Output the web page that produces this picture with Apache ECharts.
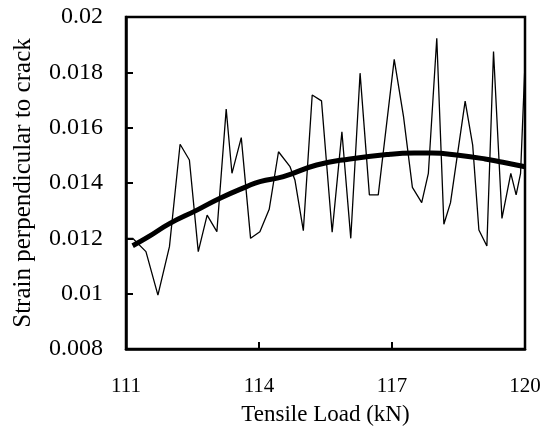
<!DOCTYPE html>
<html><head><meta charset="utf-8">
<script src="https://cdn.jsdelivr.net/npm/echarts@6/dist/echarts.min.js"></script>
<style>html,body{margin:0;padding:0;background:#fff}#c{width:547px;height:436px}</style>
</head><body><div id="c"></div>
<script>
var loadX = [111.0,111.15,111.45,111.72,111.98,112.22,112.43,112.63,112.83,113.05,113.26,113.39,113.6,113.81,114.02,114.23,114.44,114.7,114.81,115.0,115.2,115.41,115.65,115.87,116.07,116.28,116.49,116.69,117.05,117.26,117.46,117.67,117.82,118.01,118.17,118.32,118.65,118.82,118.96,119.14,119.29,119.48,119.68,119.8,119.9,120.0];
var strain = [0.0120,0.0120,0.01152,0.00995,0.0117,0.0154,0.01483,0.01152,0.01284,0.01224,0.01667,0.01435,0.01564,0.0120,0.01224,0.01305,0.01513,0.01459,0.01411,0.01228,0.01718,0.01697,0.01222,0.01585,0.0120,0.01797,0.01357,0.01357,0.01847,0.0164,0.01384,0.01329,0.01435,0.01923,0.01251,0.01329,0.01696,0.01537,0.0123,0.01172,0.01875,0.01272,0.01435,0.01357,0.01435,0.01833];
var trendX = [111.15,111.5,111.99,112.6,113.12,113.72,114.02,114.55,115.3,116.05,116.96,117.5,117.9,118.5,119.1,119.5,120.0];
var trendY = [0.01173,0.01205,0.01254,0.01302,0.01345,0.01387,0.01405,0.01423,0.01465,0.01487,0.01504,0.01508,0.01508,0.01500,0.01487,0.01475,0.01459];
var xTicks = [111,114,117,120];

var font = 'Liberation Serif';
var chart = echarts.init(document.getElementById('c'));
chart.setOption({
  animation:false,
  grid:{left:126,right:22,top:17,bottom:87,show:true,borderColor:'#000',borderWidth:2.5,backgroundColor:'transparent'},
  xAxis:{type:'value',min:111,max:120,interval:3,
    name:'Tensile Load (kN)',nameLocation:'middle',nameGap:54,
    nameTextStyle:{fontFamily:font,fontSize:23,color:'#000'},
    axisLine:{show:true,lineStyle:{color:'#000',width:2.5}},
    axisTick:{show:true,inside:true,length:7,lineStyle:{color:'#000',width:2}},
    axisLabel:{fontFamily:font,fontSize:21,color:'#000',margin:27,
      formatter:function(v){return xTicks.indexOf(v)>=0?String(v):'';}},
    splitLine:{show:false}},
  yAxis:{type:'value',min:0.008,max:0.02,interval:0.002,
    name:'Strain perpendicular to crack',nameLocation:'middle',nameGap:90,
    nameTextStyle:{fontFamily:font,fontSize:25,color:'#000'},
    axisLine:{show:true,lineStyle:{color:'#000',width:2.5}},
    axisTick:{show:true,inside:true,length:7,lineStyle:{color:'#000',width:2}},
    axisLabel:{fontFamily:font,fontSize:24,color:'#000',margin:23},
    splitLine:{show:false}},
  series:[
    {type:'line',data:loadX.map(function(x,i){return [x,strain[i]];}),
      showSymbol:false,lineStyle:{color:'#000',width:1.3},z:2},
    {type:'line',data:trendX.map(function(x,i){return [x,trendY[i]];}),
      smooth:true,showSymbol:false,lineStyle:{color:'#000',width:5},z:3}
  ]
});
</script></body></html>
